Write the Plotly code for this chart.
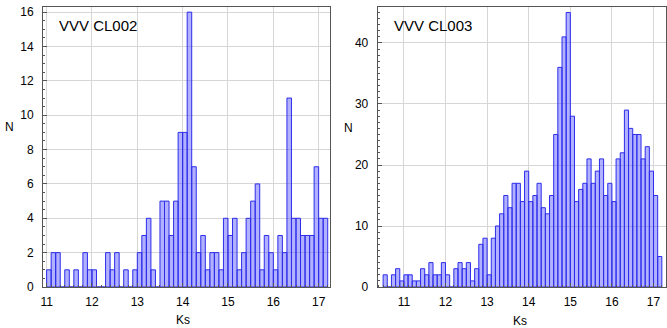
import plotly.graph_objects as go

# ---- data (bin lower edges in Ks, counts N) ----
ks_cl002 = [11.0, 11.1, 11.2, 11.3, 11.4, 11.5, 11.6, 11.7, 11.8, 11.9,
            12.0, 12.1, 12.2, 12.3, 12.4, 12.5, 12.6, 12.7, 12.8, 12.9,
            13.0, 13.1, 13.2, 13.3, 13.4, 13.5, 13.6, 13.7, 13.8, 13.9,
            14.0, 14.1, 14.2, 14.3, 14.4, 14.5, 14.6, 14.7, 14.8, 14.9,
            15.0, 15.1, 15.2, 15.3, 15.4, 15.5, 15.6, 15.7, 15.8, 15.9,
            16.0, 16.1, 16.2, 16.3, 16.4, 16.5, 16.6, 16.7, 16.8, 16.9,
            17.0, 17.1]
n_cl002 = [1, 2, 2, 0, 1, 0, 1, 0, 2, 1,
           1, 0, 0, 2, 1, 2, 0, 1, 0, 1,
           2, 3, 4, 1, 0, 5, 5, 3, 5, 9,
           9, 16, 7, 2, 3, 1, 2, 2, 1, 4,
           3, 4, 1, 2, 4, 5, 6, 1, 3, 2,
           1, 3, 2, 11, 4, 4, 3, 3, 3, 7,
           4, 4]

ks_cl003 = [10.5, 10.6, 10.7, 10.8, 10.9,
            11.0, 11.1, 11.2, 11.3, 11.4, 11.5, 11.6, 11.7, 11.8, 11.9,
            12.0, 12.1, 12.2, 12.3, 12.4, 12.5, 12.6, 12.7, 12.8, 12.9,
            13.0, 13.1, 13.2, 13.3, 13.4, 13.5, 13.6, 13.7, 13.8, 13.9,
            14.0, 14.1, 14.2, 14.3, 14.4, 14.5, 14.6, 14.7, 14.8, 14.9,
            15.0, 15.1, 15.2, 15.3, 15.4, 15.5, 15.6, 15.7, 15.8, 15.9,
            16.0, 16.1, 16.2, 16.3, 16.4, 16.5, 16.6, 16.7, 16.8, 16.9,
            17.0, 17.1]
n_cl003 = [2, 0, 2, 3, 1,
           2, 2, 1, 1, 3, 2, 4, 2, 2, 4,
           2, 0, 3, 4, 3, 4, 1, 3, 7, 8,
           2, 8, 10, 12, 15, 13, 17, 17, 14, 19,
           14, 15, 17, 13, 12, 15, 25, 36, 41, 45,
           28, 14, 16, 17, 21, 17, 19, 21, 15, 17,
           14, 21, 22, 29, 26, 25, 25, 21, 23, 19,
           15, 5]

bin_width = 0.1
panel_labels = ["VVV CL002", "VVV CL003"]
x_title = "Ks"
y_title = "N"

# ---- styling ----
fill = "rgba(70,70,255,0.42)"
edge = "rgb(45,45,235)"
grid = "#d6d6d6"
frame = "#555555"
font = dict(family="Liberation Sans, Arial, sans-serif", size=12, color="black")

fig = go.Figure()
fig.add_trace(go.Bar(x=ks_cl002, y=n_cl002, width=bin_width, offset=0,
                     xaxis="x", yaxis="y",
                     marker=dict(color=fill, line=dict(color=edge, width=1))))
fig.add_trace(go.Bar(x=ks_cl003, y=n_cl003, width=bin_width, offset=0,
                     xaxis="x2", yaxis="y2",
                     marker=dict(color=fill, line=dict(color=edge, width=1))))

W, H = 667, 328
ml, mr, mt, mb = 43, 1, 7, 41
pw = W - ml - mr
ph = H - mt - mb


def px(xp):
    return (xp - ml) / pw


def py(yp):
    return (H - mb - yp) / ph


common_x = dict(dtick=1, showgrid=True, gridcolor=grid, gridwidth=1,
                showline=True, mirror=True, linecolor=frame, linewidth=1,
                ticks="inside", ticklen=4, tickcolor=frame, zeroline=False,
                ticklabelstandoff=4,
                minor=dict(dtick=0.1, ticks="inside", ticklen=2, tickcolor=frame, showgrid=False))
common_y = dict(showgrid=True, gridcolor=grid, gridwidth=1,
                showline=True, mirror=True, linecolor=frame, linewidth=1,
                ticks="inside", ticklen=4, tickcolor=frame, zeroline=False,
                ticklabelstandoff=6)

fig.update_layout(
    width=W, height=H,
    margin=dict(l=ml, r=mr, t=mt, b=mb),
    paper_bgcolor="white", plot_bgcolor="white",
    font=font, showlegend=False,
    xaxis=dict(domain=[0, px(330)], range=[10.92, 17.25], anchor="y", **common_x),
    yaxis=dict(domain=[0, 1], range=[0, 16.3], dtick=2, anchor="x",
               minor=dict(dtick=0.5, ticks="inside", ticklen=2, tickcolor=frame, showgrid=False),
               **common_y),
    xaxis2=dict(domain=[px(377.7), 1], range=[10.37, 17.3], anchor="y2", **common_x),
    yaxis2=dict(domain=[0, 1], range=[0, 45.9], dtick=10, anchor="x2",
                minor=dict(dtick=1, ticks="inside", ticklen=2, tickcolor=frame, showgrid=False),
                **common_y),
    annotations=[
        dict(text=panel_labels[0], xref="paper", yref="paper", x=px(57), y=py(26),
             xanchor="left", yanchor="middle", showarrow=False, font=dict(size=15)),
        dict(text=panel_labels[1], xref="paper", yref="paper", x=px(392), y=py(26),
             xanchor="left", yanchor="middle", showarrow=False, font=dict(size=15)),
        dict(text=y_title, xref="paper", yref="paper", x=px(9), y=py(127),
             xanchor="center", yanchor="middle", showarrow=False),
        dict(text=y_title, xref="paper", yref="paper", x=px(348), y=py(128),
             xanchor="center", yanchor="middle", showarrow=False),
        dict(text=x_title, xref="paper", yref="paper", x=px(183), y=py(320),
             xanchor="center", yanchor="middle", showarrow=False),
        dict(text=x_title, xref="paper", yref="paper", x=px(520), y=py(321),
             xanchor="center", yanchor="middle", showarrow=False),
    ],
)

fig.write_html("out.html")
